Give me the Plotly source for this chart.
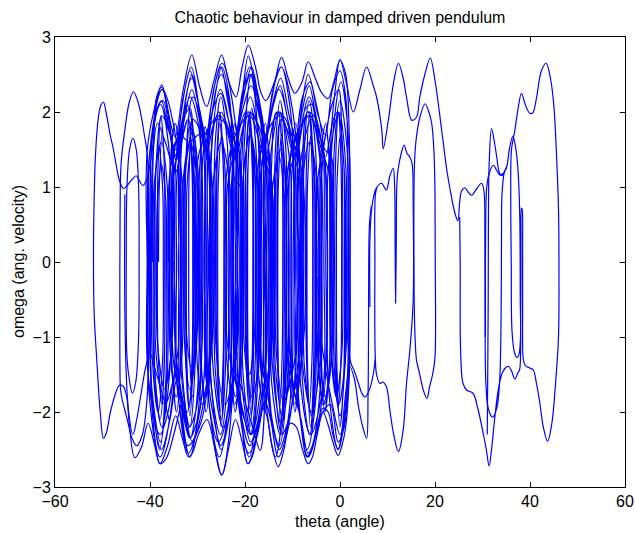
import plotly.graph_objects as go

# ---- trajectory strokes: (theta, omega) ----
left_outer = [(-33.5,-1.9),(-35.0,-2.3),(-36.6,-2.62),(-37.9,-2.69),(-39.0,-2.45),(-40.4,-2.15),(-41.8,-2.47),(-43.2,-2.61),(-44.3,-2.2),(-44.9,-1.8),(-45.6,-1.66),(-46.4,-1.64),(-47.4,-1.78),(-48.4,-2.02),(-49.2,-2.28),(-49.8,-2.35),(-50.5,-1.98),(-51.2,-1.31),(-51.75,-0.7),(-51.9,0.0),(-51.8,0.7),(-51.5,1.4),(-51.0,1.85),(-50.4,2.08),(-49.8,2.13),(-49.2,1.98),(-48.4,1.7),(-47.7,1.5),(-47.0,1.25),(-46.4,1.08),(-45.6,0.98),(-44.8,1.02),(-43.8,1.1),(-42.9,1.15),(-42.2,1.08),(-41.5,1.02),(-40.7,1.1),(-40.0,1.3),(-39.3,1.6),(-38.6,2.2),(-37.5,2.33),(-36.3,2.0),(-35.3,1.4),(-35.1,0.7),(-34.95,0.0)]

left_loop_a = [(-46.3,-1.55),(-46.35,-0.5),(-46.3,0.6),(-46.1,1.3),(-45.3,1.76),(-44.4,2.12),(-43.5,2.27),(-42.6,2.15),(-41.8,1.93),(-41.2,1.7),(-40.6,1.45),(-40.3,1.0),(-40.2,0.0),(-40.25,-1.0),(-40.6,-1.8),(-41.6,-2.3),(-42.8,-2.45),(-43.8,-2.35),(-44.6,-2.15),(-45.2,-2.0),(-45.8,-1.85),(-46.2,-1.7),(-46.3,-1.55)]

left_loop_b = [(-36.0,-2.1),(-37.2,-1.8),(-38.9,-1.44),(-40.0,-1.22),(-40.9,-1.4),(-41.9,-1.76),(-42.8,-2.1),(-43.6,-2.3),(-44.5,-2.0),(-45.0,-1.5),(-45.3,-0.6),(-45.35,0.3),(-45.3,0.9)]

left_loop_c = [(-44.9,-1.2),(-45.0,0.0),(-44.85,1.0),(-44.3,1.5),(-43.6,1.65),(-42.9,1.5),(-42.4,1.0),(-42.3,0.0),(-42.4,-1.0),(-43.0,-1.6),(-43.7,-1.75),(-44.5,-1.5),(-44.9,-1.2)]

core = [(-34.95,0.0),
(-35.15,-1.75),(-37.9,-2.6),(-40.2,-1.75),(-40.4,0.0),
(-40.2,1.37),(-37.8,2.1),(-35.8,1.37),(-35.6,0.0),
(-35.8,-1.43),(-37.5,-2.2),(-39.1,-1.43),(-39.3,0.0),
(-39.1,1.04),(-37.6,1.6),(-36.4,1.04),(-36.2,0.0),
(-36.4,-1.56),(-37.8,-2.4),(-39.8,-1.56),(-40.0,0.0),
(-39.8,1.4),(-38.9,1.95),(-37.6,2.15),(-36.2,1.8),(-34.6,1.5),(-33.0,2.2),(-31.3,2.6),(-30.0,2.2),(-29.4,1.7),(-29.2,0.0),
(-29.4,-1.7),(-31.6,-2.6),(-33.7,-1.7),(-33.9,0.0),
(-33.7,1.6),(-31.2,2.45),(-28.8,1.6),(-28.6,0.0),
(-28.8,-1.66),(-31.9,-2.55),(-34.2,-1.66),(-34.4,0.0),
(-34.2,1.24),(-32.0,1.9),(-30.2,1.24),(-30.0,0.0),
(-30.2,-1.1),(-31.6,-1.7),(-32.7,-1.1),(-32.9,0.0),
(-32.7,1.14),(-31.0,1.75),(-29.8,1.14),(-29.6,0.0),
(-29.8,-1.5),(-30.6,-2.1),(-31.5,-2.35),(-32.9,-2.0),(-34.3,-1.55),(-35.8,-2.1),(-37.6,-2.5),(-39.4,-2.0),(-39.95,-1.3),(-40.2,0.0),
(-40.0,1.5),(-37.4,2.3),(-34.2,1.5),(-34.0,0.0),
(-34.2,-1.24),(-36.9,-1.9),(-38.7,-1.24),(-38.9,0.0),
(-38.7,1.3),(-37.5,1.95),(-35.8,1.7),(-34.5,1.35),(-33.0,1.95),(-31.2,2.5),(-29.5,2.0),(-28.2,1.55),(-26.6,2.1),(-24.9,2.6),(-23.3,2.2),(-22.7,1.6),(-22.5,0.0),
(-22.7,-1.85),(-24.9,-2.84),(-27.6,-1.85),(-27.8,0.0),
(-27.6,1.62),(-25.0,2.5),(-22.2,1.62),(-22.0,0.0),
(-22.2,-1.43),(-24.6,-2.2),(-26.7,-1.43),(-26.9,0.0),
(-26.7,1.04),(-25.0,1.6),(-23.2,1.04),(-23.0,0.0),
(-23.2,-1.7),(-25.4,-2.6),(-27.9,-1.7),(-28.1,0.0),
(-27.9,1.72),(-24.8,2.65),(-21.8,1.72),(-21.6,0.0),
(-21.8,-1.24),(-24.2,-1.9),(-26.0,-1.24),(-26.2,0.0),
(-26.0,1.3),(-25.0,2.0),(-23.6,1.8),(-22.0,1.45),(-20.6,2.2),(-19.3,2.75),(-17.8,2.3),(-16.1,1.8),(-15.9,0.0),
(-16.1,-1.75),(-19.4,-2.69),(-21.0,-1.75),(-21.2,0.0),
(-21.0,1.43),(-18.9,2.2),(-16.8,1.43),(-16.6,0.0),
(-16.8,-1.17),(-18.5,-1.8),(-20.1,-1.17),(-20.3,0.0),
(-20.1,1.62),(-18.6,2.5),(-15.7,1.62),(-15.5,0.0),
(-15.7,-1.6),(-16.8,-2.51),(-18.4,-2.2),(-19.8,-1.9),(-21.9,-1.5),(-23.4,-2.1),(-25.0,-2.5),(-27.1,-1.62),(-27.3,0.0),
(-27.1,1.5),(-25.2,2.3),(-22.6,1.5),(-22.4,0.0),
(-22.6,-1.56),(-25.6,-2.4),(-28.2,-1.56),(-28.4,0.0),
(-28.2,1.4),(-26.9,2.0),(-25.1,2.25),(-23.5,1.9),(-22.0,1.6),(-20.4,2.2),(-18.8,2.5),(-17.2,2.0),(-15.7,1.7),(-14.1,2.3),(-12.3,2.6),(-10.6,2.1),(-9.8,1.5),(-9.6,0.0),
(-9.8,-1.78),(-13.0,-2.6),(-14.8,-1.78),(-15.0,0.0),
(-14.8,1.3),(-12.7,2.0),(-10.5,1.3),(-10.3,0.0),
(-10.5,-1.4),(-12.4,-2.15),(-14.2,-1.4),(-14.4,0.0),
(-14.2,0.98),(-12.6,1.5),(-11.1,0.98),(-10.9,0.0),
(-11.1,-1.6),(-12.8,-2.45),(-15.4,-1.6),(-15.6,0.0),
(-15.4,1.7),(-12.4,2.6),(-9.3,1.7),(-9.1,0.0),
(-9.3,-1.2),(-11.9,-1.85),(-13.4,-1.2),(-13.6,0.0),
(-13.4,1.3),(-12.4,1.9),(-11.0,1.75),(-9.4,1.45),(-8.0,2.1),(-6.7,2.5),(-5.0,2.1),(-3.6,1.6),(-3.4,0.0),
(-3.6,-1.75),(-6.7,-2.6),(-8.8,-1.75),(-9.0,0.0),
(-8.8,1.43),(-6.5,2.2),(-4.2,1.43),(-4.0,0.0),
(-4.2,-1.3),(-6.0,-2.0),(-8.0,-1.3),(-8.2,0.0),
(-8.0,1.04),(-6.4,1.6),(-4.8,1.04),(-4.6,0.0),
(-4.8,-1.62),(-6.9,-2.5),(-9.2,-1.62),(-9.4,0.0),
(-9.2,1.5),(-7.9,2.2),(-6.3,2.4),(-4.8,2.0),(-3.1,1.7),(-1.6,2.3),(0.0,2.55),(1.2,2.2),(1.6,1.6),(1.8,0.0),
(1.6,-1.68),(-0.4,-2.5),(-2.4,-1.68),(-2.6,0.0),
(-2.4,1.3),(-0.2,2.0),(1.2,1.3),(1.4,0.0),
(1.2,-1.24),(-0.3,-1.9),(-1.7,-1.24),(-1.9,0.0),
(-1.7,1.56),(0.2,2.4),(1.9,1.56),(2.1,0.0),
(1.9,-1.5),(0.9,-2.2),(-0.4,-2.4),(-2.0,-1.9),(-3.6,-2.0),(-5.0,-2.3),(-6.7,-2.55),(-8.2,-2.1),(-9.4,-1.8),(-10.6,-1.2),(-10.8,0.0),
(-10.6,1.2),(-9.4,1.45),(-8.0,2.0),(-6.5,2.35),(-5.0,1.9),(-3.2,1.3),(-3.0,0.0),
(-3.2,-1.5),(-6.2,-2.3),(-8.5,-1.5),(-8.7,0.0),
(-8.5,1.24),(-6.0,1.9),(-4.0,1.24),(-3.8,0.0),
(-4.0,-1.5),(-5.6,-2.4),(-7.0,-2.6),(-8.6,-2.0),(-9.6,-1.75),(-11.2,-2.3),(-13.0,-2.6),(-14.6,-2.1),(-15.8,-1.85),(-17.4,-2.3),(-19.2,-2.55),(-21.4,-1.66),(-21.6,0.0),
(-21.4,1.7),(-19.0,2.6),(-16.4,1.7),(-16.2,0.0),
(-16.4,-1.5),(-18.6,-2.3),(-20.4,-1.5),(-20.6,0.0),
(-20.4,1.1),(-18.9,1.7),(-17.4,1.1),(-17.2,0.0),
(-17.4,-1.7),(-19.1,-2.6),(-21.7,-1.7),(-21.9,0.0),
(-21.7,1.6),(-20.3,2.2),(-18.6,2.6),(-17.0,2.1),(-15.7,1.65),(-14.2,2.1),(-12.5,2.45),(-10.7,1.95),(-8.7,1.4),(-8.5,0.0),
(-8.7,-1.3),(-9.6,-1.7),(-10.8,-2.1),(-12.2,-2.3),(-13.8,-1.5),(-14.0,0.0),
(-13.8,0.9),(-12.8,1.4),(-11.8,0.9),(-11.6,0.0),
(-11.8,-1.7),(-13.6,-2.6),(-15.8,-1.7),(-16.0,0.0),
(-15.8,1.5),(-12.9,2.3),(-10.1,1.5),(-9.9,0.0),
(-10.1,-1.5),(-11.2,-2.2),(-12.8,-2.5),(-14.4,-2.1),(-15.9,-1.6),(-17.4,-2.15),(-18.8,-2.4),(-20.4,-2.0),(-22.1,-1.55),(-23.6,-2.15),(-25.1,-2.45),(-26.8,-2.0),(-28.3,-1.5),(-29.8,-2.05),(-31.6,-2.35),(-33.4,-1.9),(-35.1,-1.3),(-35.3,0.0),
(-35.1,1.2),(-34.4,1.4),(-33.0,1.95),(-31.5,2.2),(-30.0,1.9),(-29.1,1.3),(-28.9,0.0),
(-29.1,-1.2),(-30.4,-2.0),(-31.8,-2.2),(-33.2,-1.8),(-34.6,-1.45),(-36.2,-2.0),(-37.9,-2.3),(-40.4,-1.5),(-40.6,0.0),
(-40.4,1.6),(-37.5,2.3),(-35.4,1.6),(-35.2,0.0),
(-35.4,-1.1),(-36.9,-1.7),(-38.4,-1.1),(-38.6,0.0),
(-38.4,0.85),(-37.6,1.3),(-36.7,0.85),(-36.5,0.0),
(-36.7,-1.62),(-38.0,-2.5),(-39.7,-1.62),(-39.9,0.0),
(-39.7,1.5),(-38.5,2.05),(-37.2,2.15),(-35.8,1.7),(-34.4,1.4),(-32.8,1.9),(-31.2,2.3),(-29.6,1.9),(-28.2,1.45),(-26.8,0.95),(-26.6,0.0),
(-26.8,-1.0),(-27.6,-1.4),(-28.8,-1.9),(-31.0,-2.4),(-33.1,-1.56),(-33.3,0.0),
(-33.1,1.04),(-31.6,1.6),(-30.0,1.04),(-29.8,0.0),
(-30.0,-0.9),(-31.3,-1.4),(-32.4,-0.9),(-32.6,0.0),
(-32.4,1.43),(-31.0,2.2),(-27.8,1.43),(-27.6,0.0),
(-27.8,-1.6),(-29.6,-2.2),(-32.0,-2.45),(-33.6,-2.0),(-34.6,-1.5),(-35.7,-1.0),(-35.9,0.0),
(-35.7,0.9),(-34.6,1.3),(-33.0,1.9),(-31.6,2.05),(-30.8,1.35),(-30.6,0.0),
(-30.8,-1.3),(-32.2,-2.0),(-34.6,-1.2),(-34.8,0.0),
(-34.6,1.3),(-33.4,2.0),(-31.6,2.55),(-29.8,2.1),(-28.2,1.7),(-26.6,2.3),(-25.1,2.6),(-23.5,2.1),(-22.0,1.7),(-20.4,2.3),(-18.9,2.5),(-17.2,1.6),(-17.0,0.0),
(-17.2,-1.5),(-18.8,-2.3),(-20.6,-2.0),(-22.0,-1.6),(-23.7,-1.1),(-23.9,0.0),
(-23.7,1.0),(-22.2,1.5),(-20.6,2.0),(-18.7,2.35),(-16.8,1.9),(-15.6,1.3),(-15.4,0.0),
(-15.6,-1.4),(-17.0,-2.1),(-19.0,-2.45),(-21.2,-1.9),(-22.4,-1.2),(-22.6,0.0),
(-22.4,1.3),(-19.8,2.0),(-18.0,1.3),(-17.8,0.0),
(-18.0,-0.97),(-19.0,-1.5),(-19.8,-0.97),(-20.0,0.0),
(-19.8,1.3),(-18.7,2.0),(-17.0,1.8),(-15.7,1.5),(-14.4,1.1),(-14.2,0.0),
(-14.4,-1.1),(-15.7,-1.6),(-16.7,-1.2),(-16.9,0.0),
(-16.7,1.2),(-15.5,1.6),(-14.0,2.1),(-12.6,2.35),(-11.0,1.9),(-9.6,1.55),(-8.0,1.2),(-7.5,0.8),(-7.3,0.0),
(-7.5,-0.9),(-8.6,-1.5),(-9.6,-1.7),(-10.8,-1.3),(-11.5,-0.8),(-11.7,0.0),
(-11.5,0.9),(-10.4,1.4),(-8.8,1.6),(-7.2,2.05),(-5.8,2.1),(-4.4,1.7),(-3.2,1.5),(-1.8,1.4),(-1.6,0.9),(-1.4,0.0),
(-1.6,-1.0),(-2.6,-1.7),(-3.6,-1.9),(-4.7,-1.2),(-4.9,0.0),
(-4.7,1.1),(-3.3,1.6),(-1.7,2.1),(-0.3,2.3),(0.4,1.5),(0.6,0.0),
(0.4,-1.2),(-0.8,-1.8),(-1.9,-1.2),(-2.1,0.0)]

core_narrow = [(-38.2,0.0),
(-38.0,1.1),(-37.4,1.75),(-36.9,1.1),(-36.8,0.0),
(-36.95,-1.2),(-37.5,-1.9),(-38.3,-1.2),(-38.45,0.0),
(-38.3,1.3),(-37.7,1.95),(-37.0,1.3),(-36.9,0.0),
(-37.05,-1.5),(-37.9,-2.1),(-38.95,-1.5),(-39.1,0.0),
(-38.95,1.0),(-38.2,1.55),(-37.35,1.0),(-37.2,0.0),
(-37.35,-1.3),(-38.3,-2.0),(-39.5,-1.3),(-39.65,0.0),
(-39.5,1.3),(-38.4,1.85),(-36.8,1.6),(-34.6,1.2),(-33.0,1.7),(-32.0,1.9),(-31.2,1.3),(-31.0,0.0),
(-31.15,-1.3),(-31.8,-1.95),(-32.5,-1.3),(-32.65,0.0),
(-32.5,1.2),(-31.7,1.8),(-31.0,1.2),(-30.85,0.0),
(-31.0,-1.4),(-31.6,-2.05),(-32.2,-1.4),(-32.35,0.0),
(-32.2,1.0),(-31.4,1.5),(-30.6,1.0),(-30.45,0.0),
(-30.6,-1.5),(-31.6,-2.2),(-33.4,-1.5),(-33.55,0.0),
(-33.4,1.5),(-32.2,2.1),(-30.4,1.5),(-30.25,0.0),
(-30.4,-1.2),(-31.0,-1.8),(-31.7,-1.2),(-31.85,0.0),
(-31.7,1.3),(-31.0,1.9),(-29.4,1.75),(-28.2,1.4),(-26.8,1.8),(-25.5,2.0),(-24.6,1.3),(-24.45,0.0),
(-24.6,-1.3),(-25.2,-2.0),(-25.9,-1.3),(-26.05,0.0),
(-25.9,1.2),(-25.3,1.85),(-24.5,1.2),(-24.35,0.0),
(-24.5,-1.5),(-25.0,-2.2),(-25.6,-1.5),(-25.75,0.0),
(-25.6,1.1),(-24.9,1.7),(-24.1,1.1),(-23.95,0.0),
(-24.1,-1.4),(-24.9,-2.1),(-26.3,-1.4),(-26.45,0.0),
(-26.3,1.55),(-25.1,2.2),(-23.7,1.55),(-23.55,0.0),
(-23.7,-1.6),(-25.2,-2.3),(-27.2,-1.6),(-27.35,0.0),
(-27.2,1.2),(-26.0,1.9),(-24.2,1.85),(-22.0,1.4),(-20.2,1.85),(-19.3,1.95),(-18.5,1.3),(-18.35,0.0),
(-18.5,-1.3),(-19.1,-1.95),(-19.8,-1.3),(-19.95,0.0),
(-19.8,1.3),(-19.1,2.0),(-18.3,1.3),(-18.15,0.0),
(-18.3,-1.5),(-18.9,-2.2),(-19.5,-1.5),(-19.65,0.0),
(-19.5,1.1),(-18.8,1.7),(-17.9,1.1),(-17.75,0.0),
(-17.9,-1.4),(-18.7,-2.05),(-19.3,-1.4),(-19.45,0.0),
(-19.3,1.4),(-18.6,2.05),(-17.6,1.4),(-17.45,0.0),
(-17.6,-1.6),(-18.9,-2.3),(-20.7,-1.6),(-20.85,0.0),
(-20.7,1.3),(-19.5,2.0),(-17.8,1.9),(-15.7,1.4),(-13.9,1.9),(-13.0,2.0),(-12.2,1.3),(-12.05,0.0),
(-12.2,-1.3),(-12.7,-1.95),(-13.15,-1.3),(-13.3,0.0),
(-13.15,1.3),(-12.5,2.0),(-11.9,1.3),(-11.75,0.0),
(-11.9,-1.5),(-12.4,-2.2),(-12.95,-1.5),(-13.1,0.0),
(-12.95,1.1),(-12.3,1.7),(-11.5,1.1),(-11.35,0.0),
(-11.5,-1.4),(-12.2,-2.05),(-13.6,-1.4),(-13.75,0.0),
(-13.6,1.5),(-12.6,2.15),(-11.4,1.5),(-11.25,0.0),
(-11.4,-1.6),(-12.6,-2.3),(-14.4,-1.6),(-14.55,0.0),
(-14.4,1.3),(-13.3,2.0),(-11.4,1.9),(-9.4,1.4),(-7.6,1.9),(-6.7,2.0),(-5.9,1.3),(-5.75,0.0),
(-5.9,-1.3),(-6.5,-1.95),(-7.05,-1.3),(-7.2,0.0),
(-7.05,1.3),(-6.4,2.0),(-5.6,1.3),(-5.45,0.0),
(-5.6,-1.5),(-6.2,-2.2),(-6.8,-1.5),(-6.95,0.0),
(-6.8,1.1),(-6.1,1.7),(-5.3,1.1),(-5.15,0.0),
(-5.3,-1.4),(-6.0,-2.05),(-7.5,-1.4),(-7.65,0.0),
(-7.5,1.5),(-6.5,2.15),(-5.15,1.5),(-5.0,0.0),
(-5.15,-1.6),(-6.4,-2.3),(-7.9,-1.6),(-8.05,0.0),
(-7.9,1.3),(-6.8,2.0),(-5.0,1.9),(-3.1,1.4),(-1.4,1.9),(-0.5,2.0),(0.2,1.3),(0.35,0.0),
(0.2,-1.3),(-0.4,-1.95),(-0.95,-1.3),(-1.1,0.0),
(-0.95,1.3),(-0.3,2.0),(0.8,1.3),(0.95,0.0),
(0.8,-1.5),(0.0,-2.2),(-0.6,-1.5),(-0.75,0.0),
(-0.6,1.1),(0.1,1.7),(1.0,1.1),(1.15,0.0),
(1.0,-1.4),(0.0,-2.05),(-1.2,-1.4),(-1.35,0.0),
(-1.2,1.5),(0.0,2.15),(1.5,1.5),(1.65,0.0),
(1.5,-1.6),(0.0,-2.3),(-1.6,-1.9),(-3.1,-1.4),(-4.15,-0.9),(-4.3,0.0),
(-4.15,1.0),(-3.5,1.5),(-2.8,1.0),(-2.65,0.0),
(-2.8,-1.2),(-3.5,-1.8),(-4.1,-1.2),(-4.25,-0.2)]

core_boundary = [(-36.1,0.0),
(-35.95,1.1),(-34.6,1.6),(-33.25,1.1),(-33.1,0.0),
(-33.25,-1.2),(-34.5,-1.8),(-35.75,-1.2),(-35.9,0.0),
(-35.75,1.3),(-34.7,1.85),(-33.65,1.3),(-33.5,0.0),
(-33.65,-1.4),(-34.4,-2.0),(-35.35,-1.4),(-35.5,0.0),
(-35.35,1.2),(-33.8,1.7),(-31.8,1.6),(-29.5,1.7),(-28.3,1.5),(-27.1,1.2),(-26.95,0.0),
(-27.1,-1.2),(-28.3,-1.8),(-29.5,-1.2),(-29.65,0.0),
(-29.5,1.3),(-28.4,1.8),(-27.35,1.3),(-27.2,0.0),
(-27.35,-1.4),(-28.2,-2.0),(-29.15,-1.4),(-29.3,0.0),
(-29.15,1.15),(-28.3,1.65),(-27.55,1.15),(-27.4,0.0),
(-27.55,-1.3),(-29.0,-1.9),(-30.1,-1.3),(-30.25,0.0),
(-30.1,1.3),(-28.0,1.75),(-25.2,1.95),(-22.9,1.5),(-22.2,1.1),(-20.95,1.0),(-20.8,0.0),
(-20.95,-1.2),(-22.0,-1.8),(-23.15,-1.2),(-23.3,0.0),
(-23.15,1.3),(-22.1,1.85),(-21.05,1.3),(-20.9,0.0),
(-21.05,-1.4),(-22.1,-2.0),(-22.75,-1.4),(-22.9,0.0),
(-22.75,1.15),(-21.9,1.7),(-20.7,1.15),(-20.55,0.0),
(-20.7,-1.3),(-22.2,-1.9),(-23.85,-1.3),(-24.0,0.0),
(-23.85,1.2),(-22.0,1.7),(-19.0,1.95),(-16.6,1.5),(-14.75,1.1),(-14.6,0.0),
(-14.75,-1.2),(-15.8,-1.8),(-16.95,-1.2),(-17.1,0.0),
(-16.95,1.3),(-15.7,1.85),(-14.95,1.3),(-14.8,0.0),
(-14.95,-1.4),(-15.9,-2.0),(-16.55,-1.4),(-16.7,0.0),
(-16.55,1.15),(-15.6,1.7),(-14.5,1.15),(-14.35,0.0),
(-14.5,-1.3),(-16.0,-1.9),(-17.45,-1.3),(-17.6,0.0),
(-17.45,1.2),(-15.6,1.7),(-12.6,1.95),(-10.2,1.5),(-8.35,1.1),(-8.2,0.0),
(-8.35,-1.2),(-9.4,-1.8),(-10.55,-1.2),(-10.7,0.0),
(-10.55,1.3),(-9.3,1.85),(-8.55,1.3),(-8.4,0.0),
(-8.55,-1.4),(-9.5,-2.0),(-10.15,-1.4),(-10.3,0.0),
(-10.15,1.15),(-9.2,1.7),(-8.1,1.15),(-7.95,0.0),
(-8.1,-1.3),(-9.6,-1.9),(-11.05,-1.3),(-11.2,0.0),
(-11.05,1.2),(-9.2,1.7),(-6.3,1.95),(-3.9,1.5),(-2.05,1.1),(-1.9,0.0),
(-2.05,-1.2),(-3.1,-1.8),(-4.25,-1.2),(-4.4,0.0),
(-4.25,1.3),(-3.0,1.85),(-2.25,1.3),(-2.1,0.0),
(-2.25,-1.4),(-3.2,-2.0),(-3.85,-1.4),(-4.0,0.0),
(-3.85,1.15),(-2.9,1.7),(-1.8,1.15),(-1.65,0.0),
(-1.8,-1.3),(-3.3,-1.9),(-4.65,-1.3),(-4.8,-0.2)]

envelope = [(-39.5,0.0),(-39.3,1.5),(-38.6,2.15),(-37.5,2.36),(-36.2,2.0),(-34.7,1.67),(-33.0,2.3),(-31.2,2.76),(-29.6,2.35),(-28.1,2.07),(-26.6,2.4),(-24.9,2.76),(-23.4,2.4),(-21.9,2.2),(-20.6,2.6),(-19.3,2.89),(-17.8,2.6),(-16.6,2.25),(-15.6,2.15),(-13.8,2.4),(-12.3,2.73),(-10.9,2.45),(-9.5,2.25),(-8.0,2.4),(-6.7,2.67),(-5.2,2.45),(-3.8,2.25),(-2.5,2.18),(-1.3,2.4),(0.0,2.69),(1.2,2.5),(1.9,1.8),(2.1,0.0),
(1.95,-1.5),(1.2,-2.2),(0.4,-2.45),(-0.4,-2.58),(-1.5,-2.4),(-2.6,-2.15),(-3.6,-2.0),(-4.8,-2.3),(-5.8,-2.6),(-6.7,-2.69),(-7.9,-2.5),(-9.2,-2.2),(-10.5,-2.15),(-11.8,-2.5),(-13.0,-2.73),(-14.3,-2.45),(-15.4,-2.05),(-16.2,-1.95),(-17.4,-2.3),(-18.5,-2.6),(-19.4,-2.69),(-20.6,-2.4),(-22.0,-2.1),(-23.5,-2.5),(-24.9,-2.84),(-26.3,-2.5),(-28.0,-2.1),(-29.8,-2.3),(-31.1,-2.55),(-31.9,-2.6),(-33.2,-2.35),(-34.6,-2.05),(-36.3,-2.45),(-37.9,-2.69),(-39.4,-2.1),(-39.9,-1.2),(-40.0,0.0)]

right_path = [(-2.1,0.0),(-1.9,1.66),(-1.0,2.3),(0.0,2.7),(1.3,2.4),(2.8,2.0),(4.2,2.3),(5.6,2.6),(7.0,2.35),(7.7,2.2),(8.8,1.76),(9.1,1.51),(10.2,1.9),(11.3,2.4),(12.3,2.65),(13.3,2.45),(14.0,2.2),(15.1,1.89),(16.1,1.93),(16.8,2.2),(17.9,2.51),(19.0,2.72),(20.0,2.42),(21.4,1.76),(22.5,1.22),(23.2,0.96),(24.2,0.65),(24.8,0.55),(25.2,0.8),(25.6,0.95),(26.3,0.99),(27.0,0.93),(27.7,0.89),(28.8,0.98),(29.8,1.05),(30.3,0.95),(30.5,0.4),(30.55,-0.8),(30.7,-1.6),(31.2,-1.95),(32.1,-2.07),(33.0,-1.95),(33.6,-1.6),(33.9,-0.8),(34.0,0.3),(34.1,0.9),(34.6,1.2),(35.1,1.27),(35.7,1.52),(36.4,1.68),(37.0,1.52),(37.5,1.2),(37.85,0.6),(37.95,-0.5),(38.0,-1.0),(37.6,-1.25),(37.2,-1.27),(36.7,-1.2),(36.2,-0.9),(36.05,0.0),(35.95,0.9),(36.1,1.5),(36.8,1.75),(37.5,2.05),(38.2,2.25),(39.0,2.1),(40.0,1.98),(40.6,1.99),(41.4,2.2),(42.4,2.55),(43.4,2.65),(44.3,2.45),(45.0,2.1),(45.6,1.4),(46.0,0.7),(46.1,-0.2),(46.0,-1.0),(45.4,-1.6),(44.6,-2.15),(43.7,-2.39),(42.8,-2.2),(42.0,-1.85),(41.3,-1.6),(40.7,-1.44),(39.8,-1.41),(39.0,-1.38),(38.6,-1.3),(38.45,-0.6),(38.45,0.3),(38.35,0.7),(38.2,0.72),(38.1,0.3),(38.05,-0.8),(37.8,-1.44),(37.5,-1.47),(36.8,-1.56),(36.1,-1.45),(35.4,-1.39),(34.7,-1.42),(34.1,-1.49),(33.3,-1.71),(32.6,-2.07),(31.9,-2.5),(31.4,-2.72),(30.8,-2.5),(30.2,-2.3),(29.0,-1.95),(28.0,-1.75),(26.7,-1.71),(25.9,-1.62),(25.4,-1.2),(25.3,0.0),(25.2,0.6)]

right_loop = [(31.0,-2.3),(31.1,-1.5),(31.2,-0.5),(31.25,0.6),(31.4,1.3),(31.9,1.78),(32.5,1.6),(33.0,1.4),(33.5,1.2),(34.0,1.15),(34.6,1.2),(35.1,1.27)]

right_lower_top = [(30.6,-1.0),(30.65,0.3),(30.9,1.0),(31.5,1.2),(32.3,1.29),(33.0,1.22),(33.7,1.16),(34.3,1.18)]

mid_loop_19 = [(15.6,-0.4),(15.55,0.6),(15.7,1.35),(16.1,1.67),(16.9,1.95),(17.9,2.11),(18.7,2.0),(19.3,1.85),(19.8,1.45),(20.0,0.9),(20.05,0.0),(20.0,-1.27),(19.5,-1.5),(18.9,-1.65),(18.3,-1.82),(17.6,-1.72),(17.2,-1.62),(16.5,-1.42),(16.1,-1.31),(15.8,-1.0),(15.6,-0.4)]

mid_loop_12 = [(6.3,-0.6),(6.3,0.3),(6.7,0.73),(7.6,0.98),(8.8,1.05),(9.3,1.0),(9.8,0.96),(10.5,1.15),(11.2,1.25),(11.5,1.0),(11.6,0.3),(11.7,-0.55),(11.85,0.3),(11.95,1.0),(12.2,1.22),(12.9,1.45),(13.5,1.56),(14.1,1.45),(14.7,1.4),(15.2,1.3),(15.4,0.8),(15.4,-0.51),(14.7,-1.18),(14.0,-1.62),(13.3,-2.24),(12.3,-2.53),(11.3,-2.3),(10.5,-1.98),(9.8,-1.67),(9.0,-1.6),(8.4,-1.62),(7.7,-1.5),(7.4,-1.2),(7.35,0.0),(7.45,0.9),(7.8,1.0)]

mid_bottom_a = [(6.6,0.75),(6.2,0.5),(6.05,0.0),(6.0,-1.0),(5.9,-1.8),(5.6,-2.35),(4.8,-2.2),(3.9,-1.93),(3.0,-1.55),(2.1,-1.4),(1.2,-1.75),(0.3,-2.3),(-0.4,-2.5),(-1.5,-2.3),(-2.5,-2.0),(-3.6,-1.95),(-4.5,-2.2)]

mid_bottom_b = [(7.4,-1.3),(7.0,-1.5),(6.2,-1.7),(5.3,-1.8),(4.6,-1.75),(3.9,-1.62),(3.0,-1.45),(2.3,-1.35),(1.6,-1.0),(1.45,0.0)]

strokes = [left_outer, left_loop_a, left_loop_b, left_loop_c, core, core_narrow, core_boundary,
           envelope, right_path, right_loop, right_lower_top, mid_loop_19, mid_loop_12,
           mid_bottom_a, mid_bottom_b]

theta, omega = [], []
for s in strokes:
    for t, w in s:
        theta.append(t)
        omega.append(w)
    theta.append(None)
    omega.append(None)

FONT = "Liberation Sans, Arial, Helvetica, sans-serif"

fig = go.Figure(go.Scatter(
    x=theta, y=omega, mode="lines",
    line=dict(color="#0000ff", width=1.2, shape="spline", smoothing=1.0),
    hoverinfo="skip", showlegend=False))

axis_common = dict(showline=True, linecolor="black", linewidth=1, mirror="ticks",
                   ticks="inside", ticklen=5, tickcolor="black", showgrid=False,
                   zeroline=False, automargin=False,
                   tickfont=dict(family=FONT, size=16, color="black"))

fig.update_layout(
    width=635, height=533, autosize=False,
    margin=dict(l=55, r=10, t=37, b=46, autoexpand=False),
    paper_bgcolor="white", plot_bgcolor="white",
    title=dict(text="Chaotic behaviour in damped driven pendulum",
               x=0.5, xref="paper", xanchor="center",
               y=1 - 17 / 533, yref="container", yanchor="middle",
               font=dict(family=FONT, size=16, color="black")),
    xaxis=dict(range=[-60, 60], tickvals=[-60, -40, -20, 0, 20, 40, 60], **axis_common),
    yaxis=dict(range=[-3, 3], tickvals=[-3, -2, -1, 0, 1, 2, 3], **axis_common),
    annotations=[
        dict(text="theta (angle)", xref="paper", yref="paper", x=0.5, y=-34 / 450,
             xanchor="center", yanchor="middle", showarrow=False,
             font=dict(family=FONT, size=16, color="black")),
        dict(text="omega (ang. velocity)", xref="paper", yref="paper", x=-37 / 570, y=0.5,
             xanchor="center", yanchor="middle", textangle=-90, showarrow=False,
             font=dict(family=FONT, size=16, color="black")),
    ],
)

fig.write_html("out.html")
